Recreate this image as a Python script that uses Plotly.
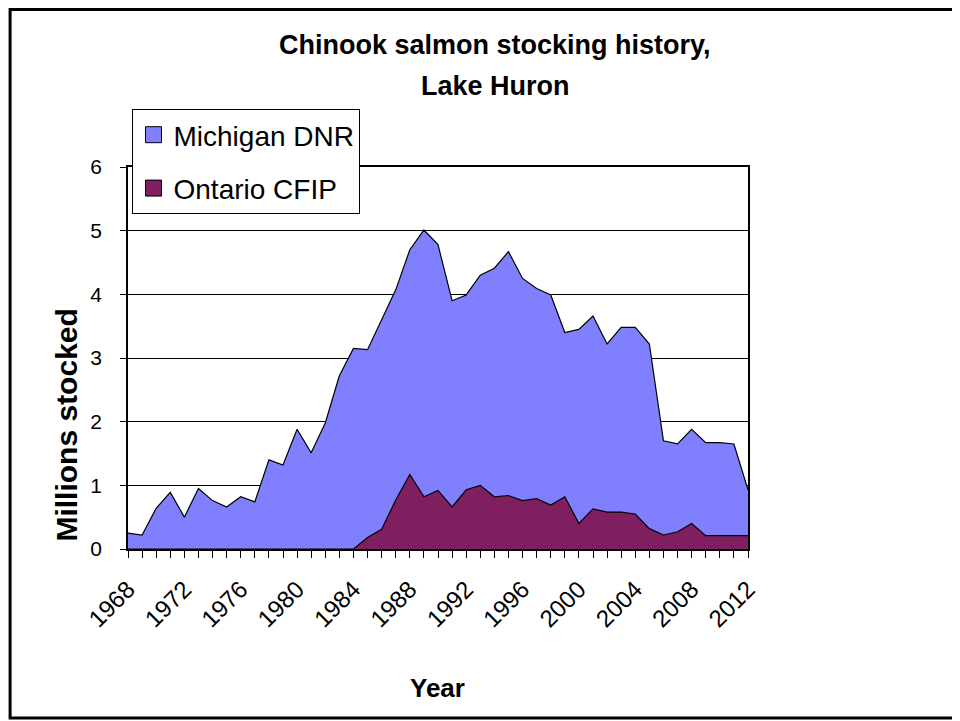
import plotly.graph_objects as go

years = list(range(1968, 2013))
# Ontario CFIP (bottom of stack), millions
ontario = [0, 0, 0, 0, 0, 0, 0, 0, 0, 0, 0, 0, 0, 0, 0, 0, 0,
           0.18, 0.31, 0.77, 1.17, 0.82, 0.92, 0.66, 0.93, 1.00, 0.82, 0.84,
           0.76, 0.79, 0.69, 0.82, 0.40, 0.63, 0.58, 0.58, 0.55, 0.32, 0.22,
           0.27, 0.40, 0.21, 0.21, 0.21, 0.21]
# Michigan DNR (stacked on top), millions
michigan = [0.25, 0.22, 0.64, 0.89, 0.50, 0.95, 0.76, 0.66, 0.82, 0.74,
            1.40, 1.32, 1.88, 1.51, 1.98, 2.72, 3.15, 2.95, 3.29, 3.30,
            3.53, 4.19, 3.86, 3.24, 3.06, 3.30, 3.59, 3.83, 3.49, 3.30,
            3.30, 2.58, 3.05, 3.03, 2.64, 2.90, 2.93, 2.90, 1.48, 1.38,
            1.48, 1.46, 1.46, 1.44, 0.72]
tick_labels = [str(y) if (y - 1968) % 4 == 0 else "" for y in years]
y_ticks = [0, 1, 2, 3, 4, 5, 6]

MICH_COLOR = "#8080FF"
ONT_COLOR = "#7F1F5F"
FONT = "Liberation Sans, Arial"

fig = go.Figure()
fig.add_trace(go.Scatter(
    x=years, y=ontario, name="Ontario CFIP", stackgroup="s", mode="lines",
    line=dict(color="black", width=1.2), fillcolor=ONT_COLOR,
    showlegend=False))
fig.add_trace(go.Scatter(
    x=years, y=michigan, name="Michigan DNR", stackgroup="s", mode="lines",
    line=dict(color="black", width=1.2), fillcolor=MICH_COLOR,
    showlegend=False))
# legend entries (square swatches)
for name, col, grp in [("Michigan DNR", MICH_COLOR, "a"),
                       ("Ontario CFIP", ONT_COLOR, "b")]:
    fig.add_trace(go.Scatter(
        x=[None], y=[None], mode="markers", name=name, legendgroup=grp,
        marker=dict(symbol="square", size=18, color=col,
                    line=dict(color="black", width=1))))

# figure is offset by the 8px page margin; coordinates below are in figure px
L, R, T, B = 119.5, 740.0, 159.0, 541.0
W, H = 952, 713
def px(fx):
    return (fx - L) / (R - L)
def py(fy):
    return (B - fy) / (B - T)

fig.update_layout(
    width=W, height=H,
    paper_bgcolor="white", plot_bgcolor="white",
    margin=dict(l=L, r=W - R, t=T, b=H - B, autoexpand=False),
    showlegend=True,
    legend=dict(x=px(124), y=py(101), xanchor="left", yanchor="top",
                traceorder="grouped", tracegroupgap=14,
                bgcolor="white", bordercolor="black", borderwidth=1,
                font=dict(family=FONT, size=28, color="black")),
    xaxis=dict(range=[1968, 2012], tickmode="array", tickvals=years,
               ticktext=tick_labels, tickangle=-45, ticks="outside",
               ticklen=7, tickcolor="black", showgrid=False,
               ticklabelstandoff=8,
               showline=True, linecolor="black", linewidth=1.5, mirror=True,
               tickfont=dict(family=FONT, size=24, color="black"),
               automargin=False),
    yaxis=dict(range=[0, 6], tickvals=y_ticks, ticks="outside", ticklen=6,
               tickcolor="black", showgrid=True, gridcolor="black",
               gridwidth=1, showline=True, linecolor="black", linewidth=1.5,
               mirror=True, zeroline=False, ticklabelstandoff=14,
               tickfont=dict(family=FONT, size=21, color="black"),
               automargin=False),
    annotations=[
        dict(text="<b>Chinook salmon stocking history,</b>", x=px(487),
             y=py(37), xref="paper", yref="paper", showarrow=False,
             xanchor="center", yanchor="middle",
             font=dict(family=FONT, size=27, color="black")),
        dict(text="<b>Lake Huron</b>", x=px(487), y=py(78), xref="paper",
             yref="paper", showarrow=False, xanchor="center",
             yanchor="middle", font=dict(family=FONT, size=27, color="black")),
        dict(text="<b>Millions stocked</b>", x=px(57), y=py(417),
             xref="paper", yref="paper", showarrow=False, textangle=-90,
             xanchor="center", yanchor="middle",
             font=dict(family=FONT, size=30, color="black")),
        dict(text="<b>Year</b>", x=px(429), y=py(680), xref="paper",
             yref="paper", showarrow=False, xanchor="center",
             yanchor="middle", font=dict(family=FONT, size=26, color="black")),
    ],
)

fig.add_shape(type="rect", xref="paper", yref="paper",
              x0=px(1.5), x1=px(970), y0=py(710), y1=py(1.5),
              line=dict(color="black", width=3), layer="above")

fig.write_html("out.html")
